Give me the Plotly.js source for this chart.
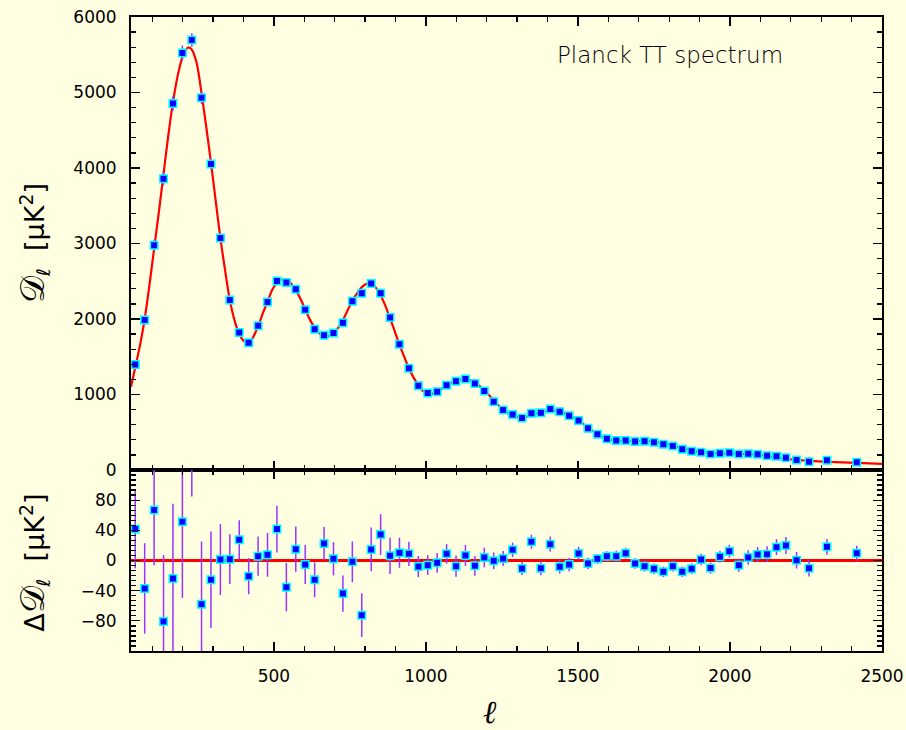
<!DOCTYPE html>
<html>
<head>
<meta charset="utf-8">
<script src="https://cdn.plot.ly/plotly-3.0.1.min.js"></script>
<style>
  html, body { margin: 0; padding: 0; background: #fffee0; }
  #chart { width: 906px; height: 730px; }
</style>
</head>
<body>
<div id="chart"></div>
<script>
// Binned multipoles
const ell = [
  44, 75, 106, 137, 168, 199, 230, 262, 293, 324,
  355, 386, 417, 448, 479, 510, 541, 572, 603, 634,
  665, 696, 727, 758, 789, 820, 851, 882, 913, 944,
  975, 1006, 1037, 1068, 1099, 1130, 1161, 1192, 1223, 1254,
  1285, 1316, 1347, 1378, 1409, 1440, 1471, 1502, 1533, 1564,
  1595, 1626, 1657, 1688, 1719, 1750, 1781, 1812, 1843, 1874,
  1905, 1936, 1967, 1998, 2029, 2060, 2091, 2122, 2153, 2184,
  2219, 2260, 2319, 2417
];

// Band powers D_l [uK^2]
const dl = [
  1396, 1988, 2978, 3857, 4855, 5522, 5695, 4930, 4052, 3073,
  2253, 1820, 1687, 1909, 2225, 2503, 2485, 2395, 2121, 1865,
  1785, 1816, 1950, 2236, 2340, 2470, 2342, 2019, 1666, 1348,
  1117, 1021, 1038, 1122, 1176, 1206, 1144, 1047, 905, 795,
  735, 689, 751, 757, 808, 773, 720, 654, 552, 473,
  415, 389, 389, 376, 380, 367, 340, 318, 274, 248,
  234, 212, 221, 230, 212, 216, 208, 190, 181, 163,
  133, 110, 128, 104
];

// 1-sigma uncertainties [uK^2]
const dlErr = [
  52, 60, 73, 88, 99, 101, 90, 83, 64, 47,
  33, 26, 24, 26, 29, 31, 32, 30, 26, 23,
  22, 22, 24, 27, 29, 29, 27, 24, 20, 16,
  14, 13, 13, 13, 14, 14, 13, 13, 11, 10,
  9.5, 8.5, 9.3, 9.3, 10, 9, 9, 9, 7.5, 6.6,
  6.6, 7.3, 7, 7, 7, 7, 7, 7, 7, 7,
  7.5, 7.5, 7.7, 8.4, 8.8, 9.5, 10, 10.4, 10.6, 11.3,
  11, 11, 10.4, 10
];

// Residuals with respect to the best-fit model [uK^2]
const dlResid = [
  41.6, -37.1, 66.8, -80.9, -23.9, 51.3, 175, -57.9, -25.6, 1.3,
  1.8, 27.4, -20.8, 5.7, 7.5, 41.6, -35.4, 15, -5.3, -25.6,
  22.5, 2.2, -43.8, -1.8, -72.5, 14.6, 34.5, 6.2, 10.2, 8.8,
  -8, -6.2, -3.1, 8.8, -7.5, 6.6, -7.1, 4, -0.4, 2.7,
  14.1, -10.6, 24.8, -10.2, 21.7, -8.4, -5.3, 9.3, -4, 2.2,
  5.7, 5.7, 9.7, -4, -7.5, -11, -15, -7.5, -15, -11,
  1.3, -10, 4.9, 12.4, -6.2, 4, 8, 8.4, 17.7, 19.9,
  0.4, -10.2, 18.1, 9.7
];

// Best-fit LCDM model curve
const modelEll = [
  30, 44, 60, 75, 90, 106, 122, 137, 152, 168, 184, 199, 210, 220, 230, 246, 262, 278, 293, 309,
  324, 340, 355, 370, 386, 400, 412, 425, 448, 465, 479, 495, 510, 532, 550, 571, 587, 603, 618, 634,
  650, 670, 685, 696, 712, 727, 743, 758, 775, 790, 805, 814, 830, 851, 866, 882, 898, 913, 929, 944,
  960, 975, 990, 1008, 1022, 1037, 1052, 1068, 1090, 1110, 1131, 1146, 1162, 1177, 1193, 1208, 1224, 1240, 1255, 1270,
  1285, 1300, 1314, 1330, 1347, 1362, 1378, 1395, 1412, 1428, 1440, 1455, 1470, 1486, 1502, 1518, 1533, 1549, 1564, 1580,
  1595, 1610, 1626, 1657, 1688, 1702, 1719, 1735, 1750, 1766, 1781, 1797, 1812, 1828, 1843, 1858, 1874, 1890, 1905, 1920,
  1936, 1951, 1967, 1982, 1998, 2014, 2029, 2045, 2060, 2076, 2091, 2106, 2122, 2138, 2153, 2168, 2184, 2200, 2219, 2240,
  2260, 2290, 2320, 2370, 2420, 2460, 2500
];
const modelDl = [
  1104, 1360, 1660, 2000, 2430, 2930, 3430, 3920, 4410, 4870, 5230, 5470, 5565, 5597, 5567, 5390, 4990, 4530, 4070, 3550,
  3070, 2630, 2250, 1990, 1800, 1712, 1683, 1712, 1905, 2090, 2230, 2390, 2475, 2530, 2500, 2390, 2270, 2128, 1995, 1885,
  1805, 1765, 1778, 1810, 1885, 1985, 2120, 2240, 2350, 2425, 2468, 2476, 2440, 2315, 2180, 2012, 1830, 1660, 1495, 1345,
  1220, 1122, 1048, 1010, 1012, 1040, 1075, 1115, 1165, 1195, 1202, 1190, 1158, 1112, 1055, 990, 915, 850, 795, 752,
  722, 704, 699, 706, 727, 748, 766, 780, 786, 783, 775, 753, 726, 694, 652, 608, 560, 514, 474, 440,
  414, 398, 388, 381, 382, 384, 384, 379, 372, 362, 350, 336, 320, 304, 288, 273, 259, 247, 237, 229,
  223, 220, 218, 218, 218, 217, 216, 214, 211, 206, 200, 193, 184, 175, 165, 156, 148, 141, 134, 127,
  121, 115, 109, 100, 93, 87, 81
];

const bg = '#fffee0';
const pointMarker = {
  symbol: 'square', size: 7.5, color: '#0000ff',
  line: { color: '#00ffff', width: 1.5 }
};
const errStyle = (arr) => ({
  type: 'data', array: arr, visible: true,
  color: '#9933ff', thickness: 1.5, width: 0
});

const traces = [
  {
    x: modelEll, y: modelDl, xaxis: 'x', yaxis: 'y',
    mode: 'lines', line: { color: '#ff0000', width: 2.2, shape: 'spline', smoothing: 0.8 },
    hoverinfo: 'skip', showlegend: false
  },
  {
    x: ell, y: dl, xaxis: 'x', yaxis: 'y',
    mode: 'markers', marker: pointMarker, error_y: errStyle(dlErr),
    showlegend: false
  },
  {
    x: ell, y: dlResid, xaxis: 'x2', yaxis: 'y2',
    mode: 'markers', marker: pointMarker, error_y: errStyle(dlErr),
    showlegend: false
  }
];

const tickFont = { family: 'DejaVu Sans, sans-serif', size: 17, color: '#000' };
const frame = {
  showline: true, linecolor: '#000', linewidth: 2, mirror: 'allticks',
  ticks: 'inside', ticklen: 9, tickwidth: 1.3, tickcolor: '#000',
  showgrid: false, zeroline: false, tickfont: tickFont, ticklabelstandoff: 9
};

const layout = {
  width: 906, height: 730,
  margin: { l: 131, r: 24, t: 17, b: 79 },
  paper_bgcolor: bg, plot_bgcolor: bg,
  showlegend: false,
  xaxis: Object.assign({}, frame, {
    anchor: 'y', domain: [0, 1], range: [30, 2500], matches: 'x2',
    tick0: 0, dtick: 500, showticklabels: false,
    minor: { ticks: 'inside', tick0: 0, dtick: 100, ticklen: 5, tickwidth: 1.3, tickcolor: '#000' }
  }),
  xaxis2: Object.assign({}, frame, {
    anchor: 'y2', domain: [0, 1], range: [30, 2500],
    tick0: 0, dtick: 500, showticklabels: true,
    minor: { ticks: 'inside', tick0: 0, dtick: 100, ticklen: 5, tickwidth: 1.3, tickcolor: '#000' }
  }),
  yaxis: Object.assign({}, frame, {
    anchor: 'x', domain: [0.2855, 1], range: [0, 6000],
    tick0: 0, dtick: 1000,
    minor: { ticks: 'inside', tick0: 0, dtick: 200, ticklen: 5, tickwidth: 1.3, tickcolor: '#000' }
  }),
  yaxis2: Object.assign({}, frame, {
    anchor: 'x2', domain: [0, 0.2855], range: [-120, 120],
    tickmode: 'array', tickvals: [-80, -40, 0, 40, 80],
    zeroline: true, zerolinecolor: '#ff0000', zerolinewidth: 2.5,
    minor: { ticks: 'inside', tickmode: 'linear', tick0: 0, dtick: 20 / 3, ticklen: 5, tickwidth: 1.3, tickcolor: '#000' }
  }),
  annotations: [
    {
      text: 'Planck TT spectrum', xref: 'paper', yref: 'paper',
      x: 0.7177, y: 0.94, xanchor: 'center', yanchor: 'middle', showarrow: false,
      font: { family: 'DejaVu Sans, sans-serif', size: 23, color: '#000', weight: 300 }
    },
    {
      text: '<span style="font-size:34px">𝒟</span><sub>ℓ</sub>  [μK<sup>2</sup>]', xref: 'paper', yref: 'paper',
      x: -0.1305, y: 0.6435, xanchor: 'center', yanchor: 'middle', textangle: -90, showarrow: false,
      font: { family: 'DejaVu Sans, sans-serif', size: 27, color: '#000' }
    },
    {
      text: 'Δ<span style="font-size:34px">𝒟</span><sub>ℓ</sub>  [μK<sup>2</sup>]', xref: 'paper', yref: 'paper',
      x: -0.1305, y: 0.139, xanchor: 'center', yanchor: 'middle', textangle: -90, showarrow: false,
      font: { family: 'DejaVu Sans, sans-serif', size: 27, color: '#000' }
    },
    {
      text: '<i>ℓ</i>', xref: 'paper', yref: 'paper',
      x: 0.478, y: -0.0962, xanchor: 'center', yanchor: 'middle', showarrow: false,
      font: { family: 'DejaVu Serif, serif', size: 32, color: '#000' }
    }
  ]
};

Plotly.newPlot('chart', traces, layout, { staticPlot: true, displayModeBar: false });
</script>
</body>
</html>
